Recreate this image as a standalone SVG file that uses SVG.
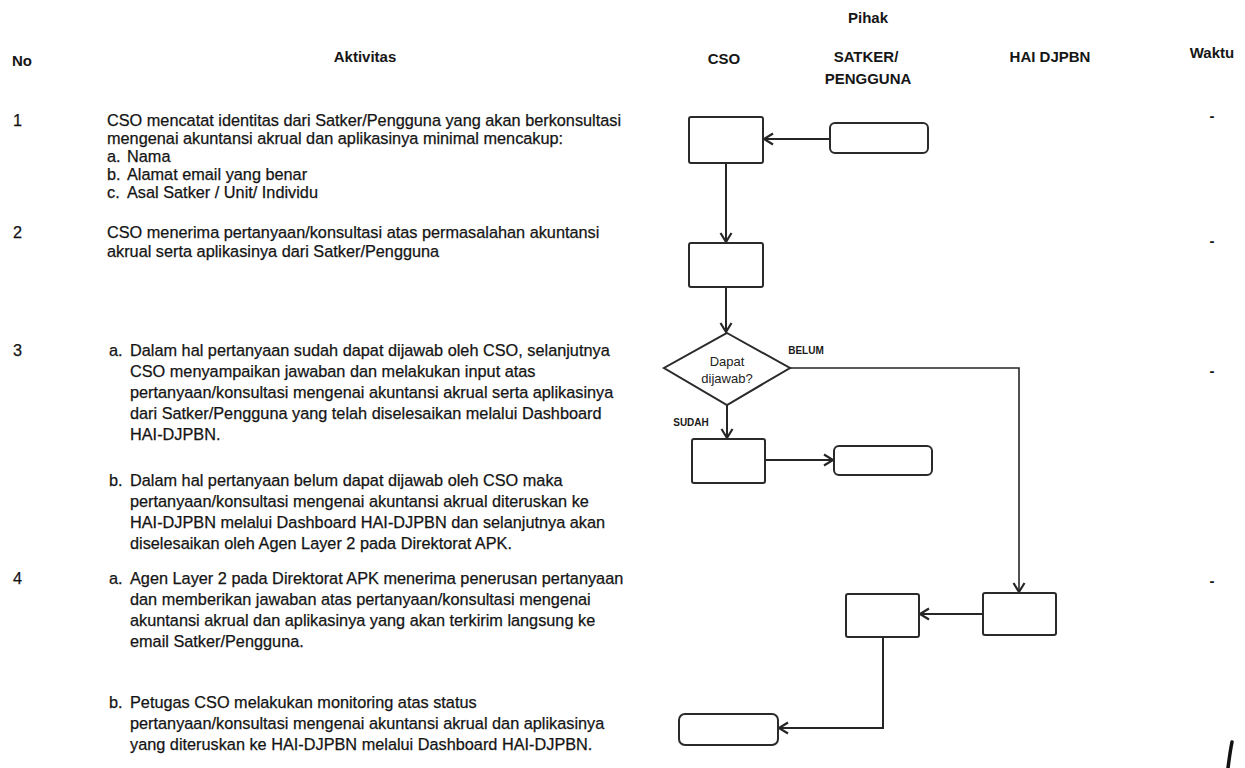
<svg xmlns="http://www.w3.org/2000/svg" width="1245" height="768" viewBox="0 0 1245 768">
<style>
.t{font-family:"Liberation Sans",Arial,sans-serif;font-size:16.3px;fill:#141414;stroke:#141414;stroke-width:0.25}
.h{font-family:"Liberation Sans",Arial,sans-serif;font-size:15px;font-weight:bold;fill:#161616}
.hc{text-anchor:middle}
.lb{font-family:"Liberation Sans",Arial,sans-serif;font-size:10px;font-weight:bold;fill:#1a1a1a;text-anchor:middle}
.dl{font-family:"Liberation Sans",Arial,sans-serif;font-size:13px;fill:#222;text-anchor:middle}
.box{fill:#fff;stroke:#2a2a2a;stroke-width:2}
.edge{fill:none;stroke:#262626;stroke-width:2}
.thin{fill:none;stroke:#262626;stroke-width:1.6}
</style>
<defs>
<marker id="ah" markerUnits="userSpaceOnUse" markerWidth="14" markerHeight="14" refX="11" refY="7" orient="auto">
<path d="M2,1.5 L11,7 L2,12.5" fill="none" stroke="#262626" stroke-width="2.2"/>
</marker>
</defs>
<rect width="1245" height="768" fill="#ffffff"/>

<g id="headers">
<text class="h" x="12" y="66">No</text>
<text class="h hc" x="365" y="62">Aktivitas</text>
<text class="h hc" x="868" y="23">Pihak</text>
<text class="h hc" x="724" y="64">CSO</text>
<text class="h hc" x="866" y="62">SATKER/</text>
<text class="h hc" x="868" y="84">PENGGUNA</text>
<text class="h hc" x="1050" y="62">HAI DJPBN</text>
<text class="h hc" x="1212" y="58">Waktu</text>
</g>

<g id="waktu">
<text class="h hc" x="1212" y="121">-</text>
<text class="h hc" x="1212" y="246">-</text>
<text class="h hc" x="1212" y="376">-</text>
<text class="h hc" x="1212" y="586">-</text>
</g>

<g id="aktivitas-1">
<text class="t" x="13" y="126">1</text>
<text class="t" x="107" y="126">CSO mencatat identitas dari Satker/Pengguna yang akan berkonsultasi</text>
<text class="t" x="107" y="144">mengenai akuntansi akrual dan aplikasinya minimal mencakup:</text>
<text class="t" x="107" y="162">a.</text><text class="t" x="127" y="162">Nama</text>
<text class="t" x="107" y="180">b.</text><text class="t" x="127" y="180">Alamat email yang benar</text>
<text class="t" x="107" y="198">c.</text><text class="t" x="127" y="198">Asal Satker / Unit/ Individu</text>
</g>

<g id="aktivitas-2">
<text class="t" x="13" y="238">2</text>
<text class="t" x="107" y="238">CSO menerima pertanyaan/konsultasi atas permasalahan akuntansi</text>
<text class="t" x="107" y="257">akrual serta aplikasinya dari Satker/Pengguna</text>
</g>

<g id="aktivitas-3">
<text class="t" x="13" y="356">3</text>
<text class="t" x="109" y="356">a.</text>
<text class="t" x="130" y="356">Dalam hal pertanyaan sudah dapat dijawab oleh CSO, selanjutnya</text>
<text class="t" x="130" y="377">CSO menyampaikan jawaban dan melakukan input atas</text>
<text class="t" x="130" y="398">pertanyaan/konsultasi mengenai akuntansi akrual serta aplikasinya</text>
<text class="t" x="130" y="419">dari Satker/Pengguna yang telah diselesaikan melalui Dashboard</text>
<text class="t" x="130" y="440">HAI-DJPBN.</text>
<text class="t" x="109" y="486">b.</text>
<text class="t" x="130" y="486">Dalam hal pertanyaan belum dapat dijawab oleh CSO maka</text>
<text class="t" x="130" y="507">pertanyaan/konsultasi mengenai akuntansi akrual diteruskan ke</text>
<text class="t" x="130" y="528">HAI-DJPBN melalui Dashboard HAI-DJPBN dan selanjutnya akan</text>
<text class="t" x="130" y="549">diselesaikan oleh Agen Layer 2 pada Direktorat APK.</text>
</g>

<g id="aktivitas-4">
<text class="t" x="13" y="584">4</text>
<text class="t" x="109" y="584">a.</text>
<text class="t" x="130" y="584">Agen Layer 2 pada Direktorat APK menerima penerusan pertanyaan</text>
<text class="t" x="130" y="605">dan memberikan jawaban atas pertanyaan/konsultasi mengenai</text>
<text class="t" x="130" y="626">akuntansi akrual dan aplikasinya yang akan terkirim langsung ke</text>
<text class="t" x="130" y="647">email Satker/Pengguna.</text>
<text class="t" x="109" y="708">b.</text>
<text class="t" x="130" y="708">Petugas CSO melakukan monitoring atas status</text>
<text class="t" x="130" y="729">pertanyaan/konsultasi mengenai akuntansi akrual dan aplikasinya</text>
<text class="t" x="130" y="750">yang diteruskan ke HAI-DJPBN melalui Dashboard HAI-DJPBN.</text>
</g>

<g id="connectors">
<line class="edge" x1="830" y1="139" x2="764" y2="139" marker-end="url(#ah)"/>
<line class="edge" x1="726" y1="163" x2="726" y2="242" marker-end="url(#ah)"/>
<line class="edge" x1="726" y1="287" x2="726" y2="332" marker-end="url(#ah)"/>
<polyline class="thin" points="790,368 1019,368 1019,592" marker-end="url(#ah)"/>
<line class="edge" x1="727" y1="405" x2="727" y2="438" marker-end="url(#ah)"/>
<line class="edge" x1="765" y1="460" x2="833" y2="460" marker-end="url(#ah)"/>
<line class="edge" x1="983" y1="614" x2="920" y2="614" marker-end="url(#ah)"/>
<polyline class="edge" points="883,637 883,728 779,728" marker-end="url(#ah)"/>
<text class="lb" x="806" y="354">BELUM</text>
<text class="lb" x="691" y="426">SUDAH</text>
</g>

<g id="n1-cso"><rect class="box" x="689" y="117" width="74" height="46" rx="2"/></g>
<g id="n1-satker"><rect class="box" x="830" y="123" width="98" height="30" rx="5"/></g>
<g id="n2-cso"><rect class="box" x="689" y="243" width="74" height="44" rx="2"/></g>
<g id="n3-decision">
<polygon class="box" points="727,333 790,368 727,405 664,368"/>
<text class="dl" x="727" y="366">Dapat</text>
<text class="dl" x="727" y="383">dijawab?</text>
</g>
<g id="n3a-cso"><rect class="box" x="692" y="439" width="73" height="44" rx="2"/></g>
<g id="n3a-satker"><rect class="box" x="834" y="446" width="98" height="29" rx="5"/></g>
<g id="n4-hai"><rect class="box" x="983" y="593" width="73" height="42" rx="2"/></g>
<g id="n4-satker"><rect class="box" x="846" y="594" width="73" height="43" rx="2"/></g>
<g id="n4b-cso"><rect class="box" x="679" y="714" width="99" height="31" rx="6"/></g>

<path d="M1232,742 C1230,752 1229,760 1228,768" fill="none" stroke="#111" stroke-width="3.5" stroke-linecap="round"/>
</svg>
